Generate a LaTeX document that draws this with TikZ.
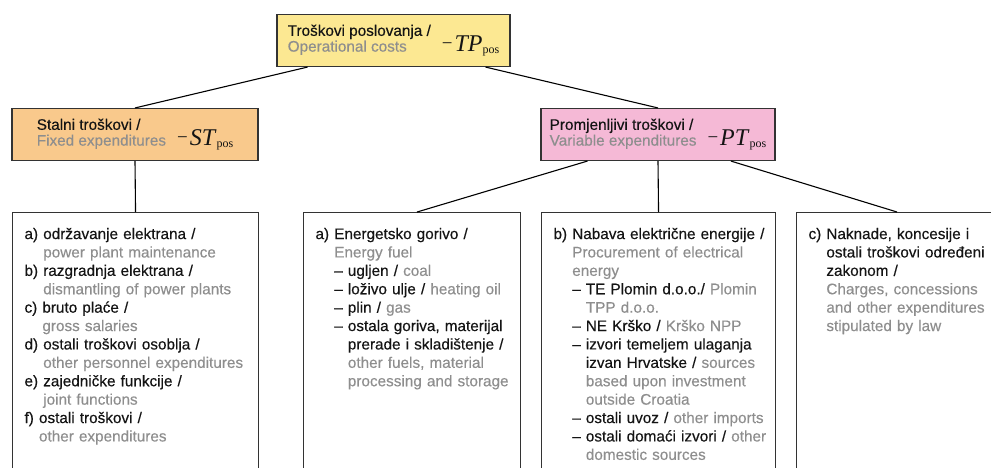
\documentclass[tikz,border=0pt]{standalone}
\usepackage{fontspec}
\setmainfont{Liberation Sans}[FakeBold=0.35]
\newfontfamily\tms{Liberation Serif}
\usetikzlibrary{calc}

\definecolor{txtgray}{HTML}{8E8E8E}
\definecolor{txtblack}{HTML}{141414}
\definecolor{fillyellow}{HTML}{FCE892}
\definecolor{fillorange}{HTML}{F9C98C}
\definecolor{fillpink}{HTML}{F5B9D6}
\definecolor{edge}{HTML}{333333}

\newcommand\en[1]{\textcolor{txtgray}{#1}}
\newcommand\ind[1]{\hphantom{#1\ }}
\newcommand\lst[1]{\begin{tabular}[t]{@{}l@{}}#1\end{tabular}}
\newcommand\sym[1]{{\tms\fontsize{24}{24}\selectfont\raisebox{2.5pt}{\fontsize{19}{19}\selectfont −}\kern2pt\textit{#1}\raisebox{-2pt}{\fontsize{12}{12}\selectfont pos}}}
\newcommand\head[3]{\begin{tabular}{@{}l@{\hspace{11pt}}l@{}}#1&\\\en{#2}&\smash{\sym{#3}}\end{tabular}}

\begin{document}
\begin{tikzpicture}[x=1pt,y=-1pt,
    headbox/.style={draw=edge,line width=1.1pt,minimum height=52,inner sep=0pt,text=txtblack,
      font=\fontsize{15.3}{15.6}\selectfont},
    listbox/.style={draw=edge,line width=1.1pt,anchor=north west,align=left,inner xsep=12,inner ysep=11,
      text height=15.5,text depth=300,text=txtblack,font=\fontsize{15.3}{18.4}\selectfont}]
    \useasboundingbox (0,0) rectangle (991,467);
    \clip (0,0) rectangle (991,467);

    % top level
    \node[headbox,fill=fillyellow,minimum width=233] (top) at (393.5,40.5) {\head{Troškovi poslovanja /}{Operational costs}{TP}};
    \node[headbox,fill=fillorange,minimum width=246] (fix) at (135,134.5) {\head{Stalni troškovi /}{Fixed expenditures}{ST}};
    \node[headbox,fill=fillpink,minimum width=234] (var) at (658,134.5) {\head{Promjenljivi troškovi /}{Variable expenditures}{PT}};

    % lists
    \node[listbox,text width=222] (fixlist) at (12,212) {\lst{%
      a) održavanje elektrana /\\
      \ind{a)}\en{power plant maintenance}\\
      b) razgradnja elektrana /\\
      \ind{b)}\en{dismantling of power plants}\\
      c) bruto plaće /\\
      \ind{c)}\en{gross salaries}\\
      d) ostali troškovi osoblja /\\
      \ind{d)}\en{other personnel expenditures}\\
      e) zajedničke funkcije /\\
      \ind{e)}\en{joint functions}\\
      f) ostali troškovi /\\
      \ind{f)}\en{other expenditures}}};
    \node[listbox,text width=193] (fuel) at (303,212) {\lst{%
      a) Energetsko gorivo /\\
      \ind{a)}\en{Energy fuel}\\
      \ind{a)}– ugljen / \en{coal}\\
      \ind{a)}– loživo ulje / \en{heating oil}\\
      \ind{a)}– plin / \en{gas}\\
      \ind{a)}– ostala goriva, materijal\\
      \ind{a)}\ind{–}prerade i skladištenje /\\
      \ind{a)}\ind{–}\en{other fuels, material}\\
      \ind{a)}\ind{–}\en{processing and storage}}};
    \node[listbox,text width=210] (power) at (541,212) {\lst{%
      b) Nabava električne energije /\\
      \ind{b)}\en{Procurement of electrical}\\
      \ind{b)}\en{energy}\\
      \ind{b)}– TE Plomin d.o.o./ \en{Plomin}\\
      \ind{b)}\ind{–}\en{TPP d.o.o.}\\
      \ind{b)}– NE Krško / \en{Krško NPP}\\
      \ind{b)}– izvori temeljem ulaganja\\
      \ind{b)}\ind{–}izvan Hrvatske / \en{sources}\\
      \ind{b)}\ind{–}\en{based upon investment}\\
      \ind{b)}\ind{–}\en{outside Croatia}\\
      \ind{b)}– ostali uvoz / \en{other imports}\\
      \ind{b)}– ostali domaći izvori / \en{other}\\
      \ind{b)}\ind{–}\en{domestic sources}}};
    \node[listbox,text width=196] (fees) at (796,212) {\lst{%
      c) Naknade, koncesije i\\
      \ind{c)}ostali troškovi određeni\\
      \ind{c)}zakonom /\\
      \ind{c)}\en{Charges, concessions}\\
      \ind{c)}\en{and other expenditures}\\
      \ind{c)}\en{stipulated by law}}};

    % connectors
    \coordinate (t1) at ($(top.south west)!.133!(top.south east)$);
    \coordinate (t2) at ($(top.south west)!.893!(top.south east)$);
    \coordinate (v1) at ($(var.south west)!.2!(var.south east)$);
    \coordinate (v2) at ($(var.south west)!.81!(var.south east)$);
    \coordinate (f1) at ($(fees.north west)+(101,0)$);
    \coordinate (u1) at ($(fuel.north)+(5,0)$);

    \foreach \from/\to in {t1/fix.north, t2/var.north, fix.south/fixlist.north, v1/u1, var.south/power.north, v2/f1}
      \draw[line width=1.1pt] (\from) -- (\to);
\end{tikzpicture}
\end{document}
